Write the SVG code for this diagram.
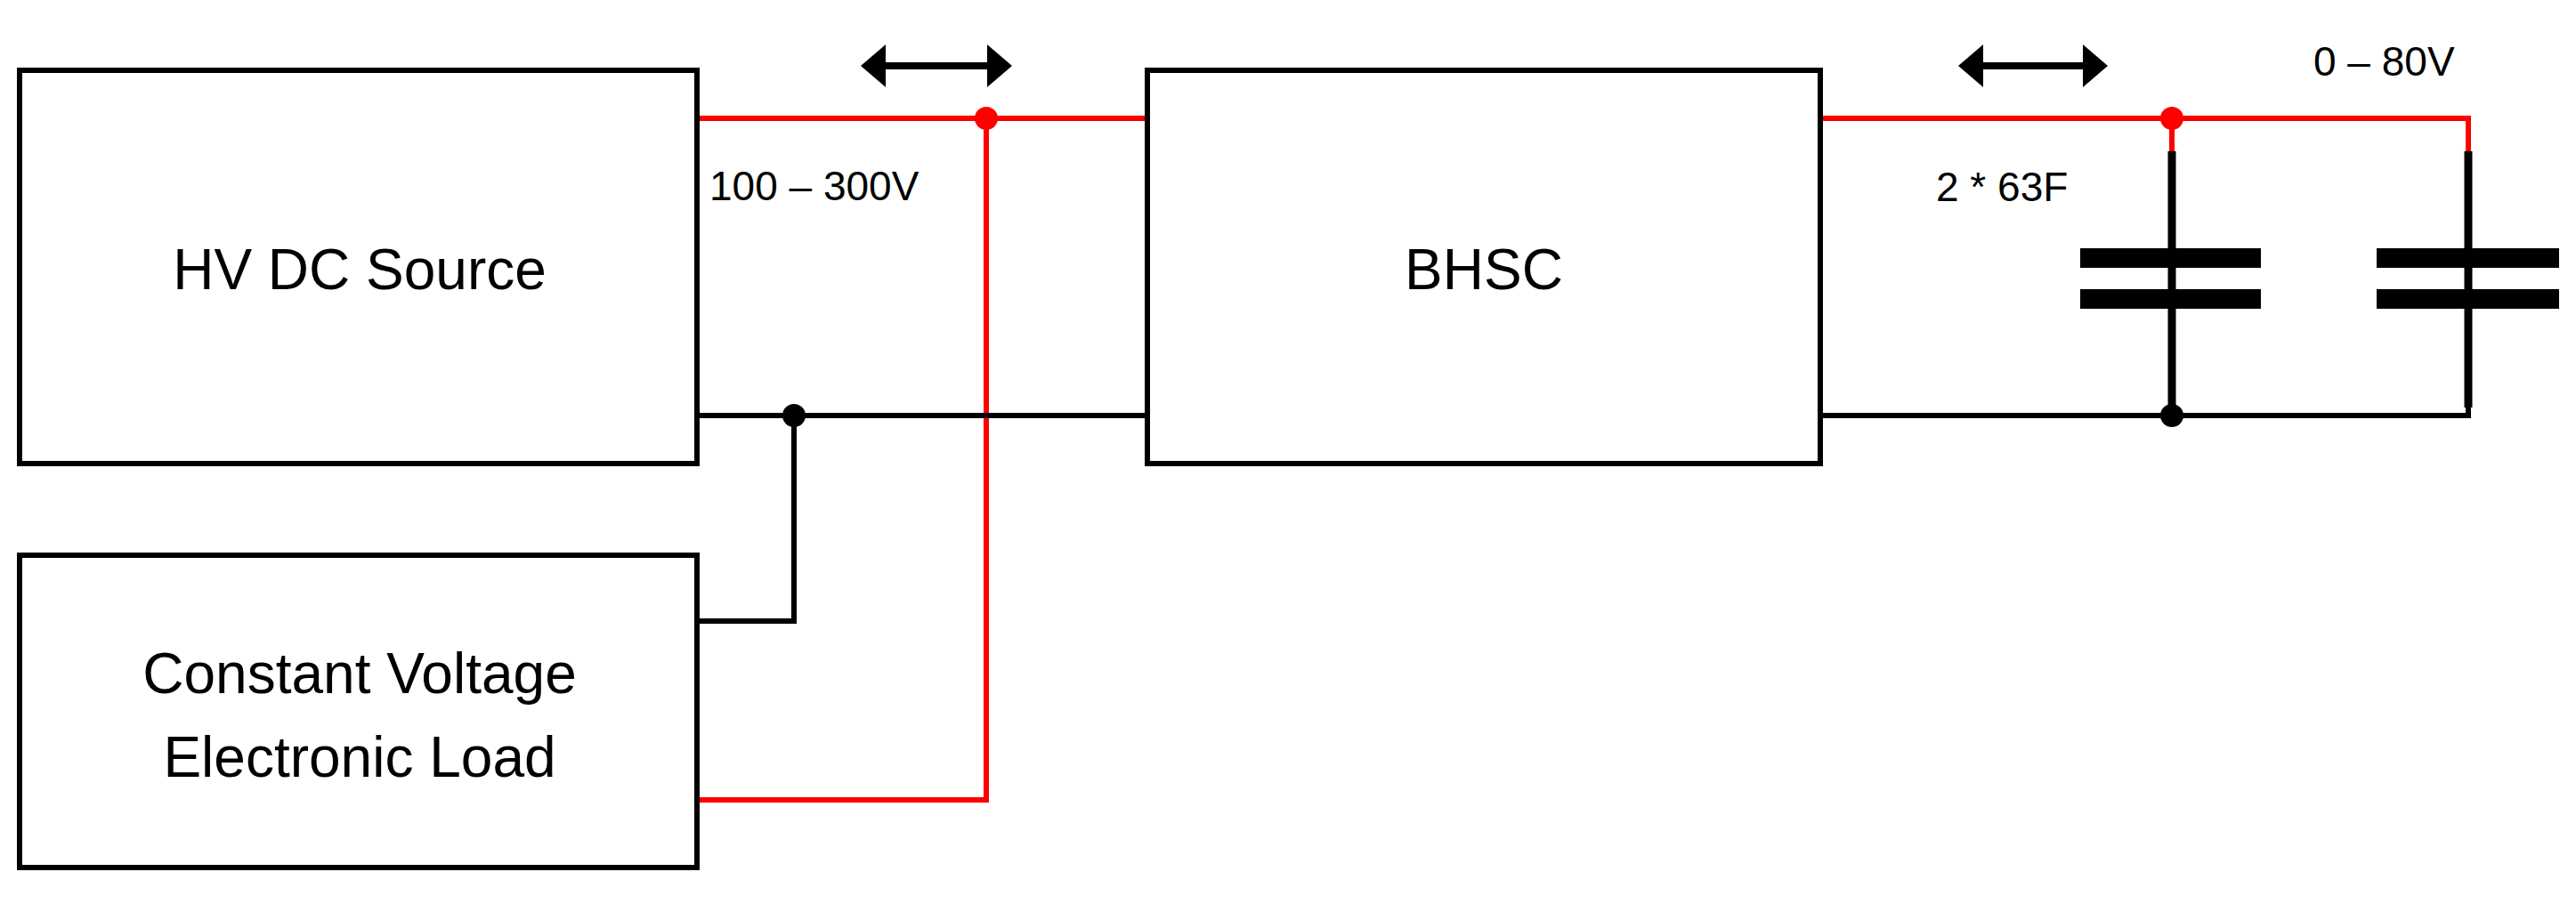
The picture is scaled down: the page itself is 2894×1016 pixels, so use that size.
<svg xmlns="http://www.w3.org/2000/svg" width="2894" height="1016" viewBox="0 0 2894 1016">
<style>
.box{fill:#fff;stroke:#000;stroke-width:6}
.t{font-family:"Liberation Sans",Arial,sans-serif;font-size:64px;fill:#000;text-anchor:middle}
.s{font-family:"Liberation Sans",Arial,sans-serif;font-size:46px;fill:#000}
.r{stroke:#f00;stroke-width:6;fill:none}
.k{stroke:#000;stroke-width:6;fill:none}
.a{stroke:#000;stroke-width:8;fill:none}
.plate{fill:#000}
</style>
<g id="connectors">
<polyline class="r" points="783,133 1289,133"/>
<polyline class="r" points="1108,133 1108,899 783,899"/>
<polyline class="k" points="783,467 1289,467"/>
<polyline class="k" points="892,467 892,698 783,698"/>
<polyline class="r" points="2045,133 2773,133 2773,170"/>
<polyline class="r" points="2440,133 2440,170"/>
<polyline class="k" points="2045,467 2773,467 2773,458"/>
<line class="k" x1="2440" y1="170" x2="2440" y2="467" style="stroke-width:9"/>
<line class="k" x1="2773" y1="170" x2="2773" y2="458" style="stroke-width:9"/>
<circle cx="1108" cy="133" r="13" fill="#f00"/>
<circle cx="892" cy="467" r="13" fill="#000"/>
<circle cx="2440" cy="133" r="13" fill="#f00"/>
<circle cx="2440" cy="467" r="13" fill="#000"/>
<line class="a" x1="990" y1="74" x2="1115" y2="74"/>
<polygon points="967,74 995,50 995,98"/>
<polygon points="1137,74 1109,50 1109,98"/>
<line class="a" x1="2222" y1="74" x2="2346" y2="74"/>
<polygon points="2200,74 2228,50 2228,98"/>
<polygon points="2368,74 2340,50 2340,98"/>
</g>
<g id="hv"><rect class="box" x="22" y="79" width="761" height="442"/><text class="t" x="404" y="325">HV DC Source</text></g>
<g id="load"><rect class="box" x="22" y="624" width="761" height="351"/><text class="t" x="404" y="779">Constant Voltage</text><text class="t" x="404" y="873">Electronic Load</text></g>
<g id="bhsc"><rect class="box" x="1289" y="79" width="756" height="442"/><text class="t" x="1667" y="325">BHSC</text></g>
<g id="cap1"><rect class="plate" x="2337" y="279" width="203" height="22"/><rect class="plate" x="2337" y="325" width="203" height="22"/></g>
<g id="cap2"><rect class="plate" x="2670" y="279" width="205" height="22"/><rect class="plate" x="2670" y="325" width="205" height="22"/></g>
<g id="labels">
<text class="s" x="797" y="225">100 – 300V</text>
<text class="s" x="2175" y="226">2 * 63F</text>
<text class="s" x="2599" y="85">0 – 80V</text>
</g>
</svg>
